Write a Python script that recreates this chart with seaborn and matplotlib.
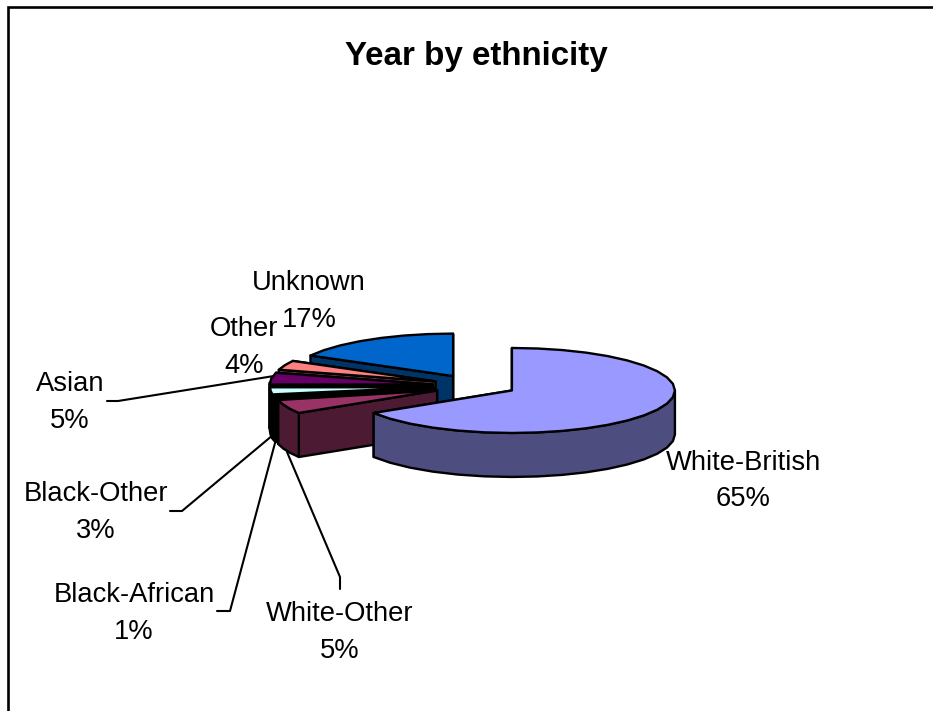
import numpy as np
import matplotlib
matplotlib.use("Agg")
import matplotlib.pyplot as plt
import seaborn as sns

# Data
categories = ["White-British", "White-Other", "Black-African", "Black-Other", "Asian", "Other", "Unknown"]
values = [65, 5, 1, 3, 5, 4, 17]
top_colors = ["#9999FF", "#993366", "#0A0A0A", "#CCFFFF", "#660066", "#FF8080", "#0066CC"]
side_colors = ["#4D4D80", "#4D1A33", "#000000", "#000000", "#000000", "#804040", "#003366"]
title = "Year by ethnicity"

sns.set_theme(style="white")
plt.rcParams["font.family"] = ["Liberation Sans", "DejaVu Sans"]

W, H = 933, 711
fig = plt.figure(figsize=(W / 100, H / 100), dpi=100, facecolor="white")
ax = fig.add_axes([0, 0, 1, 1])
ax.set_xlim(0, W)
ax.set_ylim(H, 0)
ax.axis("off")

# Pie projection (layout, in figure pixels)
CX, CY = 474.5, 385.5
RX, RY = 163.0, 42.5
EXPLODE = 42.0
DEPTH = 44.0
LW = 1.7


def warp(theta):
    # the perspective of the 3-D view bends angles on the left of the disc
    return np.interp(theta, [0, 180, 234, 252, 300, 360], [0, 180, 238, 257, 300, 360])


def proj(theta, r=1.0, origin=(0.0, 0.0)):
    t = np.radians(theta)
    return origin[0] + r * RX * np.sin(t), origin[1] - r * RY * np.cos(t)


def arc(a0, a1):
    n = max(2, int(np.ceil((a1 - a0) / 9.0)) + 1)
    return warp(np.linspace(a0, a1, n))


shares = np.array(values, dtype=float) / np.sum(values)
edges = np.concatenate([[0.0], np.cumsum(shares) * 360.0])
wedges = []
for i in range(len(values)):
    a0, a1 = edges[i], edges[i + 1]
    ox, oy = proj((a0 + a1) / 2, EXPLODE / RX, (CX, CY))
    wedges.append((i, a0, a1, (ox, oy)))


def poly(xs, ys, fc, z):
    ax.fill(xs, ys, facecolor=fc, edgecolor="black", linewidth=LW, joinstyle="round", zorder=z)


z = 2
# Back to front: Unknown ... White-Other, then White-British on top
for i, a0, a1, o in sorted(wedges, key=lambda w: (w[0] == 0, -w[0])):
    side = side_colors[i]
    top = top_colors[i]
    # radial cut faces: far face first, near face over it
    for a in (a1, a0):
        x, y = proj(warp(a), 1.0, o)
        poly([o[0], x, x, o[0]], [o[1], y, y + DEPTH, o[1] + DEPTH], side, z)
        z += 1
    # outer wall on the front half of the ellipse
    lo, hi = max(a0, 90.0), min(a1, 270.0)
    if hi > lo:
        xs, ys = proj(arc(lo, hi), 1.0, o)
        poly(np.r_[xs, xs[::-1]], np.r_[ys, (ys + DEPTH)[::-1]], side, z)
        z += 1
    # top face
    xs, ys = proj(arc(a0, a1), 1.0, o)
    poly(np.r_[o[0], xs], np.r_[o[1], ys], top, z)
    z += 1

# Labels: name and share are set on two baselines around each anchor
label_pos = {
    "White-British": (743, 478.5),
    "White-Other": (340, 630),
    "Black-African": (134, 611),
    "Black-Other": (96, 510),
    "Asian": (70, 400),
    "Other": (244, 345),
    "Unknown": (309, 299),
}
for cat, val in zip(categories, values):
    x, y = label_pos[cat]
    ax.text(x, y - 9, cat, ha="center", va="baseline", fontsize=19.7, color="black", zorder=100)
    ax.text(x, y + 28, f"{val}%", ha="center", va="baseline", fontsize=19.7, color="black", zorder=100)

# Leader lines
leaders = [
    [(107, 401), (118, 401), (274, 376)],
    [(170, 511), (182, 511), (273, 435)],
    [(217, 611), (230, 611), (275, 443)],
    [(340, 589), (340, 577), (287, 452)],
]
for pts in leaders:
    px, py = zip(*pts)
    ax.plot(px, py, color="black", lw=1.5, zorder=1)

ax.text(476.5, 56, title, ha="center", va="center", fontsize=23.9, fontweight="bold", color="black")

# Chart frame (runs off the image to the right and bottom)
ax.plot([933, 7.5, 7.5], [7, 7, 711], color="black", lw=1.9, solid_joinstyle="miter")

fig.savefig("out.png", dpi=100, facecolor="white")
